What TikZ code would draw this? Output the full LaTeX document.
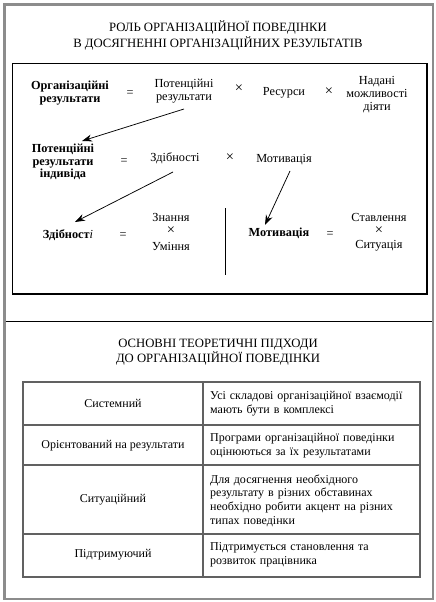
\documentclass[tikz,border=0pt]{standalone}
\usepackage{fontspec}
\setmainfont{Liberation Serif}
\usetikzlibrary{arrows.meta,calc}
\begin{document}
\begin{tikzpicture}[x=1pt,y=-1pt,
  txt/.style={align=center,inner sep=0.5pt,font=\fontsize{12.3}{13}\selectfont},
  mul/.style={inner sep=0pt,font=\fontsize{14.5}{14.5}\selectfont},
  bld/.style={align=center,inner sep=0.5pt,font=\fontsize{12.3}{12.8}\selectfont\bfseries},
  ttl/.style={align=center,inner sep=1pt,font=\fontsize{12.7}{16}\selectfont},
  ttlb/.style={align=center,inner sep=1pt,font=\fontsize{12.7}{15}\selectfont},
  tbl/.style={align=center,inner sep=1pt,font=\fontsize{12}{13.6}\selectfont},
  tbr/.style={align=left,anchor=west,text width=215pt,inner sep=1pt,font=\fontsize{12}{13.6}\selectfont},
  grid/.style={line width=1.3pt,draw=black!62},
  arr/.style={-{Stealth[length=10pt,width=7pt]},line width=0.75pt}]
\useasboundingbox (0,0) rectangle (436,602);
% outer frame
\draw[line width=2.6pt,draw=black!45] (4.5,4.5) rectangle (433,599);
% divider
\draw[line width=1pt] (5.5,321) -- (432,321);
% inner box
\draw[line width=1.2pt] (12.5,63.5) rectangle (427,294);
% titles
\node[ttl] (t1) at (218,35) {РОЛЬ ОРГАНІЗАЦІЙНОЇ ПОВЕДІНКИ\\В ДОСЯГНЕННІ ОРГАНІЗАЦІЙНИХ РЕЗУЛЬТАТІВ};
\node[ttlb] (t2) at (218,352.5) {ОСНОВНІ ТЕОРЕТИЧНІ ПІДХОДИ\\ДО ОРГАНІЗАЦІЙНОЇ ПОВЕДІНКИ};
% row 1
\node[bld] (or) at (70,93) {Організаційні\\результати};
\node[txt] (eq1) at (130,94) {=};
\node[txt] (pr) at (184,91.5) {Потенційні\\результати};
\node[mul] (x1) at (239,89) {×};
\node[txt] (res) at (284,93) {Ресурси};
\node[mul] (x2) at (329,92) {×};
\node[txt] (nm) at (377,95) {Надані\\можливості\\діяти};
% row 2
\node[bld] (pri) at (63,162) {Потенційні\\результати\\індивіда};
\node[txt] (eq2) at (124,162) {=};
\node[txt] (zd) at (175,158) {Здібності};
\node[mul] (x3) at (230,158) {×};
\node[txt] (mot) at (284,160) {Мотивація};
% row 3
\node[bld] (zd2) at (68,235) {Здібност\textit{\mdseries і}};
\node[txt] (eq3) at (123,236) {=};
\node[txt] (zn) at (171,217) {Знання};
\node[mul] (x4) at (171,231) {×};
\node[txt] (um) at (171,246) {Уміння};
\node[bld] (mot2) at (279,233) {Мотивація};
\node[txt] (eq4) at (330,235) {=};
\node[txt] (st) at (379,217) {Ставлення};
\node[mul] (x5) at (379,231) {×};
\node[txt] (sit) at (379,246) {Ситуація};
\coordinate (vt) at (225,208);
\coordinate (vb) at (225,275);
\draw[line width=1pt] (vt) -- (vb);
% arrows
\draw[arr] ($(pr)+(0,17.5)$) -- ($(pri)+(19,-21)$);
\draw[arr] ($(zd)+(-2,14)$) -- ($(zd2)+(7,-13)$);
\draw[arr] ($(mot)+(6,11)$) -- ($(mot2)+(-14,-8)$);
% table
\draw[grid] (23,382) rectangle (420,577);
\draw[grid] (203,382) -- (203,577);
\draw[grid] (23,425) -- (420,425);
\draw[grid] (23,465) -- (420,465);
\draw[grid] (23,534) -- (420,534);
\node[tbl] (c1) at (113,403.5) {Системний};
\node[tbl] (c2) at (113,446) {Орієнтований на результати};
\node[tbl] (c3) at (113,500) {Ситуаційний};
\node[tbl] (c4) at (113,555) {Підтримуючий};
\node[tbr] (d1) at (209,403.5) {Усі складові організаційної взаємодії\\мають бути в комплексі};
\node[tbr] (d2) at (209,445.5) {Програми організаційної поведінки\\оцінюються за їх результатами};
\node[tbr] (d3) at (209,500.5) {Для досягнення необхідного\\результату в різних обставинах\\необхідно робити акцент на різних\\типах поведінки};
\node[tbr] (d4) at (209,555) {Підтримується становлення та\\розвиток працівника};
\end{tikzpicture}
\end{document}
